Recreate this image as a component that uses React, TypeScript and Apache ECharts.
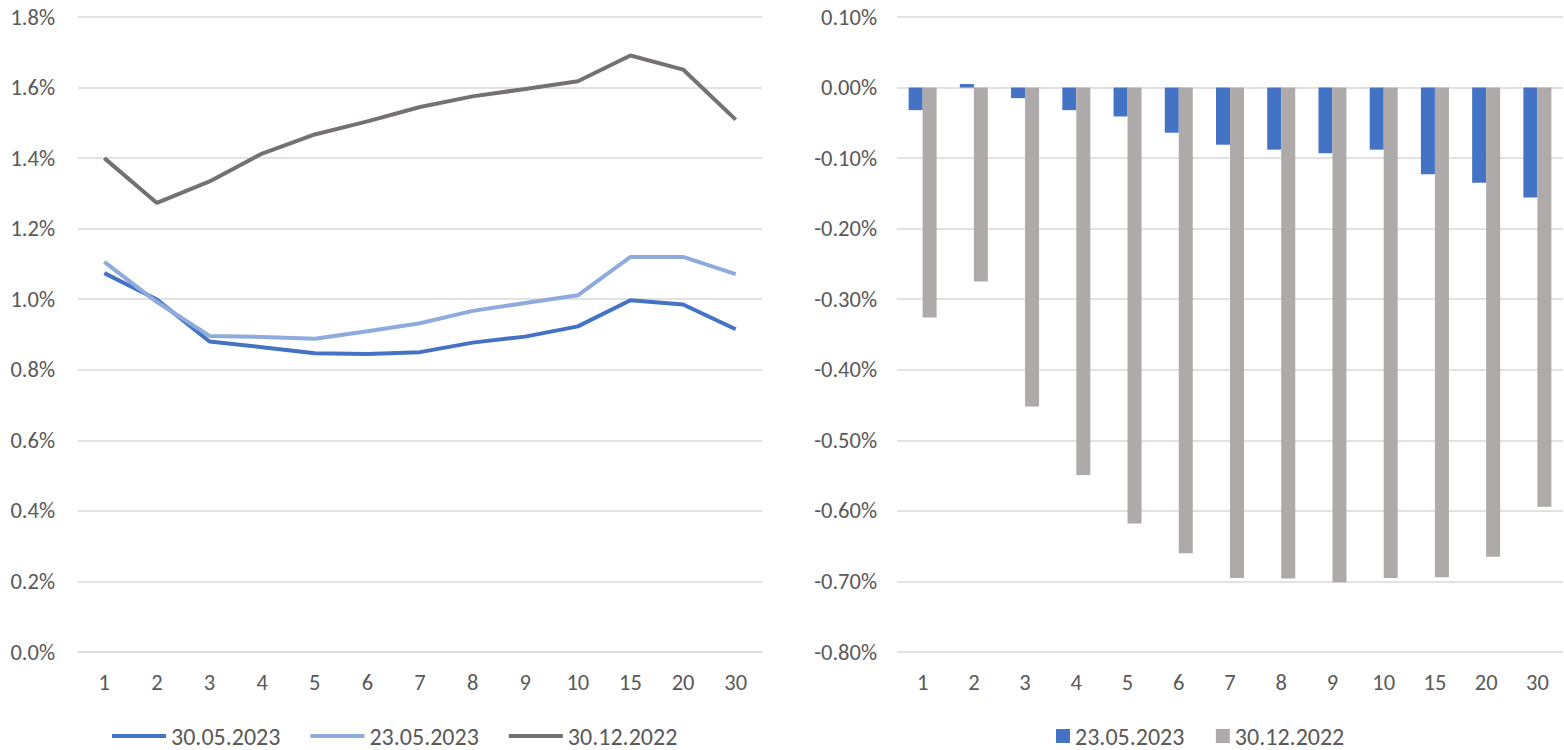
import React, { useEffect, useRef } from "react";
import * as echarts from "echarts";

const categories = ["1", "2", "3", "4", "5", "6", "7", "8", "9", "10", "15", "20", "30"];

const curve300523 = [1.074, 0.999, 0.88, 0.864, 0.847, 0.845, 0.85, 0.877, 0.894, 0.923, 0.997, 0.985, 0.915];
const curve230523 = [1.106, 0.992, 0.896, 0.893, 0.888, 0.909, 0.932, 0.967, 0.989, 1.011, 1.12, 1.12, 1.071];
const curve301222 = [1.4, 1.273, 1.334, 1.413, 1.467, 1.504, 1.545, 1.575, 1.596, 1.618, 1.691, 1.651, 1.509];

const diff230523 = [-0.032, 0.005, -0.015, -0.032, -0.041, -0.064, -0.081, -0.088, -0.093, -0.088, -0.123, -0.135, -0.156];
const diff301222 = [-0.326, -0.275, -0.452, -0.549, -0.618, -0.66, -0.695, -0.696, -0.701, -0.695, -0.694, -0.665, -0.594];

const FONT = "Carlito, Lato, sans-serif";
const TEXT = "#595959";
const GRID = "#D9D9D9";

export default function App() {
  const ref = useRef<HTMLDivElement>(null);
  useEffect(() => {
    if (!ref.current) return;
    const chart = echarts.init(ref.current, null, { renderer: "svg" });
    const legendText = { color: TEXT, fontSize: 24, fontFamily: FONT, lineHeight: 24 };
    chart.setOption({
      animation: false,
      textStyle: { fontFamily: FONT, fontSize: 22 },
      grid: [
        { left: 78, top: 17, width: 684, height: 635 },
        { left: 897, top: 17, width: 666, height: 635 },
      ],
      legend: [
        {
          left: 112,
          top: 724,
          padding: 0,
          itemWidth: 54,
          itemHeight: 4,
          itemGap: 30,
          icon: "rect",
          textStyle: legendText,
          data: ["30.05.2023", "23.05.2023", "30.12.2022"],
        },
        {
          left: 1056,
          top: 724,
          padding: 0,
          itemWidth: 14,
          itemHeight: 14,
          itemGap: 26,
          icon: "rect",
          textStyle: legendText,
          data: [
            { name: "23.05.2023 ", itemStyle: { color: "#4472C4" } },
            { name: "30.12.2022 ", itemStyle: { color: "#AEAAAA" } },
          ],
        },
      ],
      xAxis: [
        {
          type: "category",
          gridIndex: 0,
          data: categories,
          boundaryGap: true,
          axisLine: { show: true, lineStyle: { color: GRID, width: 1.5 } },
          axisTick: { show: false },
          axisLabel: { color: TEXT, fontSize: 22.5, fontFamily: FONT, margin: 19 },
        },
        {
          type: "category",
          gridIndex: 1,
          data: categories,
          axisLine: { show: false, onZero: false },
          axisTick: { show: false },
          axisLabel: { color: TEXT, fontSize: 22.5, fontFamily: FONT, margin: 19 },
        },
      ],
      yAxis: [
        {
          type: "value",
          gridIndex: 0,
          min: 0,
          max: 1.8,
          interval: 0.2,
          axisLine: { show: false },
          axisTick: { show: false },
          splitLine: { lineStyle: { color: GRID, width: 1.5 } },
          axisLabel: {
            color: TEXT,
            fontSize: 22.5,
            fontFamily: FONT,
            margin: 23,
            formatter: (v: number) => v.toFixed(1) + "%",
          },
        },
        {
          type: "value",
          gridIndex: 1,
          min: -0.8,
          max: 0.1,
          interval: 0.1,
          axisLine: { show: false },
          axisTick: { show: false },
          splitLine: { lineStyle: { color: GRID, width: 1.5 } },
          axisLabel: {
            color: TEXT,
            fontSize: 22.5,
            fontFamily: FONT,
            margin: 20,
            formatter: (v: number) => {
              const r = Math.round(v * 100) / 100;
              return (Math.abs(r) < 1e-9 ? 0 : r).toFixed(2) + "%";
            },
          },
        },
      ],
      series: [
        {
          name: "30.05.2023",
          type: "line",
          xAxisIndex: 0,
          yAxisIndex: 0,
          data: curve300523,
          showSymbol: false,
          symbol: "none",
          lineStyle: { color: "#4472C4", width: 4 },
          itemStyle: { color: "#4472C4" },
        },
        {
          name: "23.05.2023",
          type: "line",
          xAxisIndex: 0,
          yAxisIndex: 0,
          data: curve230523,
          showSymbol: false,
          symbol: "none",
          lineStyle: { color: "#8FAADC", width: 4 },
          itemStyle: { color: "#8FAADC" },
        },
        {
          name: "30.12.2022",
          type: "line",
          xAxisIndex: 0,
          yAxisIndex: 0,
          data: curve301222,
          showSymbol: false,
          symbol: "none",
          lineStyle: { color: "#767171", width: 4 },
          itemStyle: { color: "#767171" },
        },
        {
          name: "23.05.2023 ",
          type: "bar",
          xAxisIndex: 1,
          yAxisIndex: 1,
          data: diff230523,
          barWidth: 14,
          barGap: "0%",
          itemStyle: { color: "#4472C4" },
        },
        {
          name: "30.12.2022 ",
          type: "bar",
          xAxisIndex: 1,
          yAxisIndex: 1,
          data: diff301222,
          barWidth: 14,
          barGap: "0%",
          itemStyle: { color: "#AEAAAA" },
        },
      ],
    });
    return () => chart.dispose();
  }, []);
  return (
    <div
      ref={ref}
      style={{ position: "fixed", left: 0, top: 0, width: 1564, height: 750, background: "#fff" }}
    />
  );
}
